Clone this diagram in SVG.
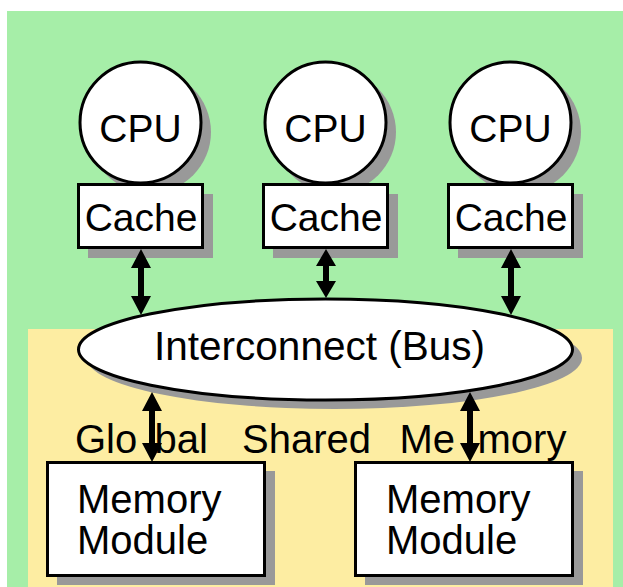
<svg xmlns="http://www.w3.org/2000/svg" width="623" height="587" viewBox="0 0 623 587">
<style>
.shadow{fill:#999999;stroke:none}
.node{fill:#ffffff;stroke:#000000;stroke-width:3}
.lbl{font-family:"Liberation Sans",Arial,sans-serif;fill:#000000}
.arrow{fill:#000000;stroke:none}
</style>
<rect x="0" y="0" width="623" height="587" fill="#ffffff"/>
<rect id="bg-green" x="7" y="11" width="616" height="576" fill="#a6eea8"/>
<rect id="bg-yellow" x="28" y="329" width="585" height="258" fill="#fdeda2"/>
<text class="lbl" font-size="40" y="453"><tspan x="75">Glo</tspan><tspan x="154.5">bal </tspan><tspan x="242">Shared </tspan><tspan x="399.5">Me</tspan><tspan x="477.5">mory</tspan></text>
<g id="cpu1">
<circle class="shadow" cx="150" cy="132" r="61"/>
<circle class="node" cx="140.5" cy="122.5" r="60.5"/>
<text class="lbl" font-size="39" x="140.5" y="142" text-anchor="middle">CPU</text>
</g>
<g id="cpu2">
<circle class="shadow" cx="335" cy="132" r="61"/>
<circle class="node" cx="325.5" cy="122.5" r="60.5"/>
<text class="lbl" font-size="39" x="325.5" y="142" text-anchor="middle">CPU</text>
</g>
<g id="cpu3">
<circle class="shadow" cx="520" cy="132" r="61"/>
<circle class="node" cx="510.5" cy="122.5" r="60.5"/>
<text class="lbl" font-size="39" x="510.5" y="142" text-anchor="middle">CPU</text>
</g>
<g id="cache1">
<rect class="shadow" x="88" y="194" width="125" height="64"/>
<rect class="node" x="78.5" y="184.5" width="124" height="63"/>
<text class="lbl" font-size="39" x="141" y="231" text-anchor="middle">Cache</text>
</g>
<g id="cache2">
<rect class="shadow" x="273" y="194" width="125" height="64"/>
<rect class="node" x="263.5" y="184.5" width="124" height="63"/>
<text class="lbl" font-size="39" x="326" y="231" text-anchor="middle">Cache</text>
</g>
<g id="cache3">
<rect class="shadow" x="458" y="194" width="125" height="64"/>
<rect class="node" x="448.5" y="184.5" width="124" height="63"/>
<text class="lbl" font-size="39" x="511" y="231" text-anchor="middle">Cache</text>
</g>
<g id="bus">
<ellipse class="shadow" cx="334.5" cy="358" rx="247.5" ry="51"/>
<ellipse class="node" cx="325.5" cy="349.5" rx="247" ry="50.5"/>
<text class="lbl" font-size="40.5" x="319.5" y="360" text-anchor="middle">Interconnect (Bus)</text>
</g>
<g id="mem1">
<rect class="shadow" x="57" y="471" width="218" height="114"/>
<rect class="node" x="47.5" y="462.5" width="217" height="113"/>
<text class="lbl" font-size="40" x="77" y="513">Memory</text>
<text class="lbl" font-size="40" x="77" y="554">Module</text>
</g>
<g id="mem2">
<rect class="shadow" x="365" y="471" width="218" height="114"/>
<rect class="node" x="355.5" y="462.5" width="217" height="113"/>
<text class="lbl" font-size="40" x="386" y="513">Memory</text>
<text class="lbl" font-size="40" x="386" y="554">Module</text>
</g>
<g id="connectors">
<path class="arrow" d="M141,249 L151,268 L144,268 L144,296 L151,296 L141,315 L131,296 L138,296 L138,268 L131,268 Z"/>
<path class="arrow" d="M326,249 L336,266 L329,266 L329,281 L336,281 L326,298 L316,281 L323,281 L323,266 L316,266 Z"/>
<path class="arrow" d="M511,249 L521,268 L514,268 L514,296 L521,296 L511,315 L501,296 L508,296 L508,268 L501,268 Z"/>
<path class="arrow" d="M152,392 L162,411 L155,411 L155,443 L162,443 L152,462 L142,443 L149,443 L149,411 L142,411 Z"/>
<path class="arrow" d="M470,392 L480,411 L473,411 L473,443 L480,443 L470,462 L460,443 L467,443 L467,411 L460,411 Z"/>
</g>
</svg>
